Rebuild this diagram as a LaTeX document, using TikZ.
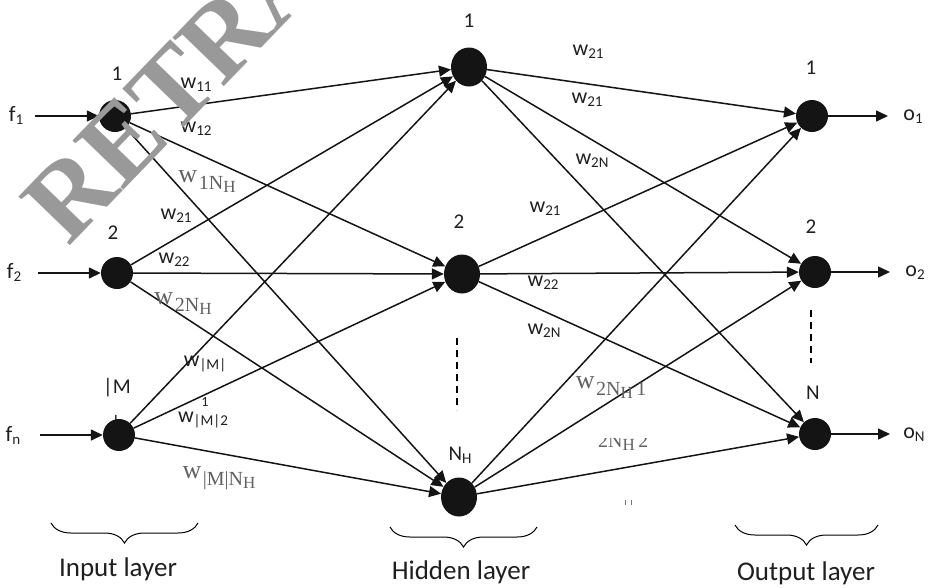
\documentclass[tikz,border=0pt]{standalone}
\usepackage{fontspec}
\setmainfont{Carlito}
\newfontfamily\serif{Liberation Serif}
\usetikzlibrary{arrows.meta,decorations.pathreplacing,shapes.geometric}
\newcommand\wsub[2]{#1\raisebox{-3pt}{\fontsize{15}{15}\selectfont #2}}
\newcommand\sw[2]{{\fontsize{26}{26}\selectfont w}\,\raisebox{-7pt}{\fontsize{20}{20}\selectfont #1\raisebox{-3pt}{\fontsize{17}{17}\selectfont #2}}}
\begin{document}
\begin{tikzpicture}[x=1pt,y=-1pt,
  neuron/.style={circle,fill=black!92,inner sep=0pt,minimum size=32pt},
  hneuron/.style={ellipse,fill=black!92,inner sep=0pt,minimum width=36pt,minimum height=39pt},
  conn/.style={line width=1.5pt,draw=black!92,-{Triangle[length=12pt,width=11pt]}},
  lbl/.style={font=\fontsize{21}{21}\selectfont,inner sep=0pt,text=black!88},
  wl/.style={font=\fontsize{22}{22}\selectfont,inner sep=0pt,text=black!88},
  swl/.style={font=\serif,inner sep=0pt,text=black!62},
  layer/.style={font=\fontsize{27}{27}\selectfont,inner sep=0pt,text=black!88},
  dashline/.style={line width=1.2pt,dash pattern=on 7pt off 5pt},
  brc/.style={decorate,decoration={brace,mirror,amplitude=20pt},line width=1pt}]
\useasboundingbox (0,0) rectangle (931,587);

% hidden remainder of a wrapped label
\node[lbl] (m3b) at (116,425) {|};

% neurons
\node[neuron] (i1) at (115,116) {};
\node[neuron] (i2) at (117,273) {};
\node[neuron] (i3) at (119,435) {};
\node[hneuron] (h1) at (469,67) {};
\node[hneuron] (h2) at (462,274) {};
\node[hneuron] (h3) at (459,497) {};
\node[neuron] (o1) at (812,116) {};
\node[neuron] (o2) at (815,272) {};
\node[neuron] (o3) at (815,434) {};

% node labels
\node[lbl] (li1) at (117,74) {1};
\node[lbl] (li2) at (113,233) {2};
\node[lbl] (li3) at (117,388) {|M};
\node[lbl] (lh1) at (469,21) {1};
\node[lbl] (lh2) at (459,222) {2};
\node[lbl] (lh3) at (460,455) {N\raisebox{-3pt}{\fontsize{15}{15}\selectfont H}};
\node[lbl] (lo1) at (811,68) {1};
\node[lbl] (lo2) at (811,227) {2};
\node[lbl] (lo3) at (813,393) {N};

% inputs
\coordinate (f1s) at (35,116);
\coordinate (f2s) at (38,273);
\coordinate (f3s) at (40,435);
\node[wl] (f1) at (16,115) {\wsub{f}{1}};
\node[wl] (f2) at (14,272) {\wsub{f}{2}};
\node[wl] (f3) at (13,435) {\wsub{f}{n}};
\draw[conn] (f1s) -- (i1);
\draw[conn] (f2s) -- (i2);
\draw[conn] (f3s) -- (i3);

% outputs
\coordinate (o1e) at (888,116);
\coordinate (o2e) at (890,272);
\coordinate (o3e) at (890,434);
\draw[conn] (o1) -- (o1e);
\draw[conn] (o2) -- (o2e);
\draw[conn] (o3) -- (o3e);
\node[wl] (lo1o) at (913,117) {\wsub{o}{1}};
\node[wl] (lo2o) at (915,273) {\wsub{o}{2}};
\node[wl] (lo3o) at (914,435) {\wsub{o}{N}};

% connections
\foreach \a in {i1,i2,i3}
  \foreach \b in {h1,h2,h3}
    \draw[conn] (\a) -- (\b);
\foreach \a in {h1,h2,h3}
  \foreach \b in {o1,o2,o3}
    \draw[conn] (\a) -- (\b);

% weight labels input->hidden
\node[wl] (w11) at (196,85) {\wsub{w}{11}};
\node[wl] (w12) at (196,129) {\wsub{w}{12}};
\node[swl] (w1n) at (207,182) {\sw{1N}{H}};
\node[wl] (w21a) at (176,216) {\wsub{w}{21}};
\node[wl] (w22a) at (174,260) {\wsub{w}{22}};
\node[swl] (w2n) at (183,304) {\sw{2N}{H}};
\node[wl] (wm1) at (205,364) {\wsub{w}{|M|}};
\node[lbl,font=\fontsize{14}{14}\selectfont] (wm1b) at (205,402) {1};
\node[wl] (wm2) at (203,420) {\wsub{w}{|M|2}};
\node[swl] (wmn) at (219,478) {\sw{|M|N}{H}};

% weight labels hidden->output
\node[wl] (v21a) at (588,52) {\wsub{w}{21}};
\node[wl] (v21b) at (587,100) {\wsub{w}{21}};
\node[wl] (v2na) at (592,161) {\wsub{w}{2N}};
\node[wl] (v21c) at (545,209) {\wsub{w}{21}};
\node[wl] (v22) at (543,283) {\wsub{w}{22}};
\node[wl] (v2nb) at (544,331) {\wsub{w}{2N}};
\node[swl] (v2nh1) at (611,388) {{\fontsize{26}{26}\selectfont w}\,\raisebox{-7pt}{\fontsize{20}{20}\selectfont 2N\raisebox{-3pt}{\fontsize{17}{17}\selectfont H}\,1}};
\begin{scope}
  \clip (590,438) rectangle (670,470);
  \node[swl,anchor=base west] (v2nh2) at (598,447) {{\fontsize{20}{20}\selectfont 2N\raisebox{-3pt}{\fontsize{17}{17}\selectfont H}\,2}};
\end{scope}
\coordinate (tk1a) at (625,500);
\coordinate (tk1b) at (625,505);
\coordinate (tk2a) at (631,500);
\coordinate (tk2b) at (631,505);
\draw[black!55,line width=0.8pt] (tk1a) -- (tk1b) (tk2a) -- (tk2b);

% dashed separators
\coordinate (dh1) at (457,338);
\coordinate (dh2) at (457,410);
\coordinate (do1) at (811,310);
\coordinate (do2) at (811,363);
\draw[dashline] (dh1) -- (dh2);
\draw[dashline] (do1) -- (do2);

% braces
\coordinate (b1a) at (51,523);
\coordinate (b1b) at (198,523);
\coordinate (b2a) at (390,527);
\coordinate (b2b) at (537,527);
\coordinate (b3a) at (735,525);
\coordinate (b3b) at (878,525);
\draw[brc] (b1a) -- (b1b);
\draw[brc] (b2a) -- (b2b);
\draw[brc] (b3a) -- (b3b);
\node[layer] (tin) at (118,569) {Input layer};
\node[layer] (thid) at (461,572) {Hidden layer};
\node[layer] (tout) at (806,573) {Output layer};

% watermark
\begin{scope}
  \clip (0,0) rectangle (931,587);
  \node[rotate=46,anchor=base west,font=\serif\bfseries\fontsize{108}{108}\selectfont,text=black!40,inner sep=0pt] (wmark) at (68,248) {RETRACTED};
\end{scope}
\end{tikzpicture}
\end{document}
